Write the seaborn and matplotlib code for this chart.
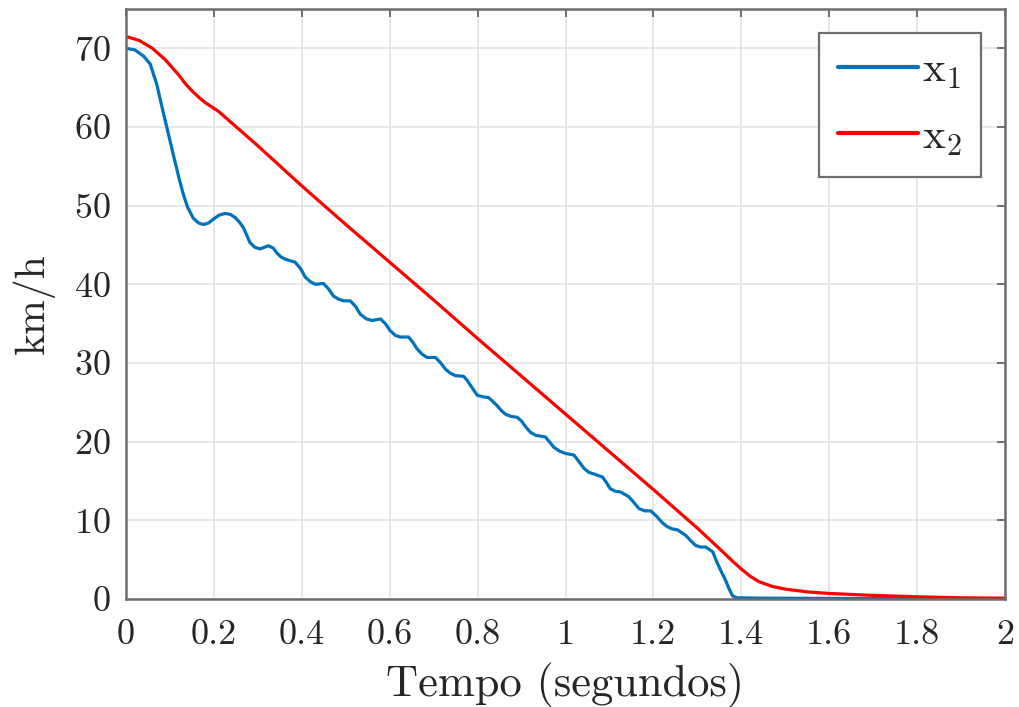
import numpy as np
import pandas as pd
import matplotlib
matplotlib.use("Agg")
import matplotlib.pyplot as plt
import seaborn as sns

# Velocidade medida x1 (km/h) ao longo do tempo (s)
t_x1 = [0.0, 0.02, 0.04, 0.055, 0.07, 0.084, 0.096, 0.107, 0.12, 0.13, 0.14, 0.153,
        0.165, 0.176, 0.188, 0.199, 0.212, 0.225, 0.237, 0.248, 0.258, 0.267, 0.275,
        0.282, 0.293, 0.305, 0.324, 0.335, 0.343, 0.352, 0.362, 0.385, 0.397, 0.408,
        0.42, 0.431, 0.449, 0.461, 0.472, 0.484, 0.495, 0.51, 0.522, 0.533, 0.547,
        0.56, 0.579, 0.59, 0.601, 0.613, 0.624, 0.643, 0.653, 0.662, 0.674, 0.685,
        0.704, 0.716, 0.727, 0.738, 0.749, 0.768, 0.776, 0.788, 0.799, 0.812, 0.825,
        0.844, 0.853, 0.863, 0.876, 0.89, 0.9, 0.909, 0.92, 0.932, 0.954, 0.963,
        0.973, 0.986, 1.0, 1.019, 1.03, 1.042, 1.053, 1.064, 1.084, 1.093, 1.102,
        1.113, 1.125, 1.144, 1.155, 1.167, 1.18, 1.194, 1.209, 1.22, 1.231, 1.243,
        1.254, 1.273, 1.285, 1.296, 1.308, 1.319, 1.335, 1.345, 1.355, 1.364, 1.372,
        1.38, 1.39, 1.45, 1.55, 1.7, 1.85, 2.0]
v_x1 = [70.0, 69.8, 69.0, 68.0, 65.4, 62.0, 59.2, 56.6, 53.6, 51.5, 49.8, 48.4,
        47.8, 47.6, 47.8, 48.3, 48.8, 49.0, 48.9, 48.5, 47.9, 47.2, 46.2,
        45.3, 44.7, 44.5, 44.9, 44.6, 44.0, 43.5, 43.2, 42.8, 42.0, 40.9,
        40.3, 40.0, 40.1, 39.4, 38.5, 38.1, 37.9, 37.9, 37.2, 36.2, 35.6,
        35.4, 35.6, 35.0, 34.1, 33.5, 33.3, 33.3, 32.6, 31.8, 31.1, 30.7,
        30.7, 30.0, 29.2, 28.7, 28.4, 28.3, 27.8, 26.8, 25.9, 25.7, 25.6,
        24.6, 24.0, 23.5, 23.2, 23.1, 22.6, 21.9, 21.2, 20.8, 20.6, 20.0,
        19.3, 18.8, 18.5, 18.3, 17.5, 16.6, 16.1, 15.9, 15.5, 14.8, 14.0,
        13.7, 13.6, 13.0, 12.3, 11.5, 11.2, 11.2, 10.4, 9.7, 9.2, 8.9,
        8.8, 8.1, 7.4, 6.8, 6.6, 6.6, 6.0, 4.6, 3.4, 2.4, 1.3,
        0.4, 0.15, 0.1, 0.08, 0.05, 0.03, 0.0]

# Velocidade de referência x2 (km/h) ao longo do tempo (s)
t_x2 = [0.0, 0.03, 0.06, 0.09, 0.12, 0.135, 0.15, 0.165, 0.18, 0.21, 0.3, 0.4, 0.5,
        0.6, 0.7, 0.8, 0.9, 1.0, 1.1, 1.2, 1.3, 1.35, 1.38, 1.4, 1.42, 1.44, 1.47,
        1.5, 1.55, 1.6, 1.7, 1.8, 1.9, 2.0]
v_x2 = [71.5, 71.0, 70.0, 68.5, 66.6, 65.5, 64.6, 63.8, 63.1, 62.0, 57.6, 52.5, 47.6,
        42.8, 38.0, 33.1, 28.3, 23.5, 18.7, 13.9, 9.0, 6.4, 4.8, 3.8, 2.9, 2.2, 1.6,
        1.25, 0.9, 0.7, 0.45, 0.28, 0.15, 0.1]

series_names = ["x1", "x2"]
legend_labels = [r"$\mathrm{x}_1$", r"$\mathrm{x}_2$"]
x_ticks = [0, 0.2, 0.4, 0.6, 0.8, 1, 1.2, 1.4, 1.6, 1.8, 2]
x_tick_labels = ["0", "0.2", "0.4", "0.6", "0.8", "1", "1.2", "1.4", "1.6", "1.8", "2"]
y_ticks = [0, 10, 20, 30, 40, 50, 60, 70]

df = pd.concat([
    pd.DataFrame({"tempo": t_x1, "vel": v_x1, "serie": series_names[0]}),
    pd.DataFrame({"tempo": t_x2, "vel": v_x2, "serie": series_names[1]}),
], ignore_index=True)

sns.set_theme(style="whitegrid")
plt.rcParams["font.family"] = ["cmr10", "DejaVu Serif"]
plt.rcParams["mathtext.fontset"] = "cm"
plt.rcParams["axes.formatter.use_mathtext"] = True

axis_color = "#6e6e6e"
text_color = "#262626"

fig = plt.figure(figsize=(10.19, 7.07), dpi=100)
ax = fig.add_axes([0.1237, 0.1528, 0.8626, 0.8345])

sns.lineplot(data=df, x="tempo", y="vel", hue="serie",
             palette={"x1": "#0072BD", "x2": "#FF0000"},
             linewidth=2.3, ax=ax, legend=False, sort=False, estimator=None)

ax.set_xlim(0, 2)
ax.set_ylim(0, 75)
ax.set_xticks(x_ticks)
ax.set_xticklabels(x_tick_labels)
ax.set_yticks(y_ticks)

ax.grid(True, color="#e3e3e3", linewidth=1.2)
for side in ["left", "right", "top", "bottom"]:
    ax.spines[side].set_visible(True)
    ax.spines[side].set_color(axis_color)
    ax.spines[side].set_linewidth(1.8)

ax.tick_params(axis="both", which="both", direction="in", length=6, width=1.4,
               color=axis_color, top=True, right=True, labelsize=26,
               labelcolor=text_color)
ax.tick_params(axis="x", pad=15)
ax.tick_params(axis="y", pad=11)

ax.set_xlabel("Tempo (segundos)", fontsize=32, color=text_color, labelpad=8)
ax.set_ylabel("km/h", fontsize=30, color=text_color, labelpad=14)

handles = ax.get_lines()[:2]
leg = ax.legend(handles, legend_labels, loc="upper right", fontsize=31,
                handlelength=1.85, handletextpad=0.1, borderaxespad=0.55,
                borderpad=0.45, labelspacing=0.62, fancybox=False,
                framealpha=1, edgecolor=axis_color)
leg.get_frame().set_linewidth(1.6)
for line in leg.get_lines():
    line.set_linewidth(3.0)
for txt in leg.get_texts():
    txt.set_color(text_color)

fig.savefig("out.png", dpi=100)
